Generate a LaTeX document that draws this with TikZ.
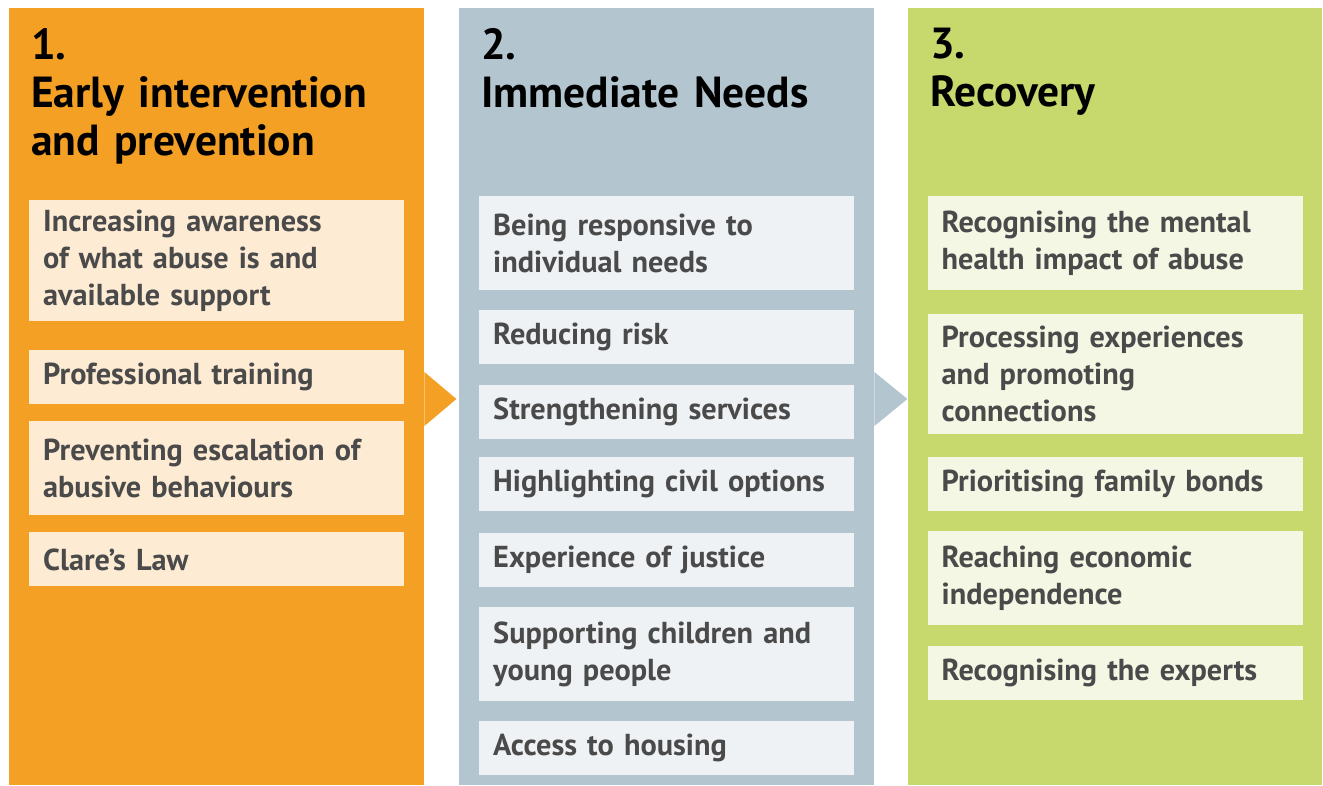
\documentclass[tikz,border=0pt]{standalone}
\usepackage{fontspec}
\setmainfont{PT Sans}
\usepackage{xcolor}
\usepackage{tikz}
\usetikzlibrary{positioning}

\definecolor{earlyfill}{HTML}{F4A024}
\definecolor{earlybox}{HTML}{FDEBD4}
\definecolor{needsfill}{HTML}{B3C5CF}
\definecolor{needsbox}{HTML}{EEF2F5}
\definecolor{recfill}{HTML}{C7D86D}
\definecolor{recbox}{HTML}{F3F7E3}
\definecolor{itemtext}{HTML}{4A4A4A}

\tikzset{
 phase/.style={rectangle, anchor=north west, inner sep=0pt, minimum width=415pt, minimum height=777pt},
 heading/.style={anchor=north west, inner sep=0pt, text width=390pt, align=left,
   font=\bfseries\fontsize{43.5}{48}\selectfont, text=black},
 item/.style={rectangle, inner xsep=14pt, inner ysep=0pt, text width=347pt, align=left,
   minimum height=54pt, font=\bfseries\fontsize{30.3}{37}\selectfont, text=itemtext},
 twoline/.style={minimum height=94pt},
 threeline/.style={minimum height=121pt}
}

\begin{document}
\begin{tikzpicture}[x=1pt,y=1pt]
\useasboundingbox (0,0) rectangle (1323,-785);
% columns
 \node[phase, fill=earlyfill] (col1) at (9,-8) {};
 \node[phase, fill=needsfill] (col2) at (459,-8) {};
 \node[phase, fill=recfill, minimum width=414pt] (col3) at (908,-8) {};
% arrows between columns
 \fill[earlyfill] ([yshift=-364pt]col1.north east) -- ++(32,-27) -- ++(-32,-27) -- cycle;
 \fill[needsfill] ([yshift=-364pt]col2.north east) -- ++(33,-27) -- ++(-33,-27) -- cycle;
% headings
 \node[heading] (h1) at ([xshift=22pt,yshift=-20pt]col1.north west) {1.\\Early intervention\\and prevention};
 \node[heading] (h2) at ([xshift=22pt,yshift=-20pt]col2.north west) {2.\\Immediate Needs};
 \node[heading] (h3) at ([xshift=22pt,yshift=-20pt]col3.north west) {3.\\Recovery};
% early intervention
 \node[item, threeline, fill=earlybox, below=192pt of col1.north] (e1) {Increasing awareness\\of what abuse is and\\available support};
 \node[item, fill=earlybox, below=28pt of e1] (e2) {Professional training};
 \node[item, twoline, fill=earlybox, below=17pt of e2] (e3) {Preventing escalation of\\abusive behaviours};
 \node[item, fill=earlybox, below=17pt of e3] (e4) {Clare’s Law};
% immediate needs
 \node[item, twoline, fill=needsbox, below=188pt of col2.north] (n1) {Being responsive to\\individual needs};
 \node[item, fill=needsbox, below=19pt of n1] (n2) {Reducing risk};
 \node[item, fill=needsbox, below=21pt of n2] (n3) {Strengthening services};
 \node[item, fill=needsbox, below=18pt of n3] (n4) {Highlighting civil options};
 \node[item, fill=needsbox, below=21pt of n4] (n5) {Experience of justice};
 \node[item, twoline, fill=needsbox, below=20pt of n5] (n6) {Supporting children and\\young people};
 \node[item, fill=needsbox, below=19pt of n6] (n7) {Access to housing};
% recovery
 \node[item, twoline, fill=recbox, below=188pt of col3.north] (r1) {Recognising the mental\\health impact of abuse};
 \node[item, threeline, minimum height=120pt, fill=recbox, below=23pt of r1] (r2) {Processing experiences\\and promoting\\connections};
 \node[item, fill=recbox, below=23pt of r2] (r3) {Prioritising family bonds};
 \node[item, twoline, fill=recbox, below=20pt of r3] (r4) {Reaching economic\\independence};
 \node[item, fill=recbox, below=20pt of r4] (r5) {Recognising the experts};
\end{tikzpicture}
\end{document}
